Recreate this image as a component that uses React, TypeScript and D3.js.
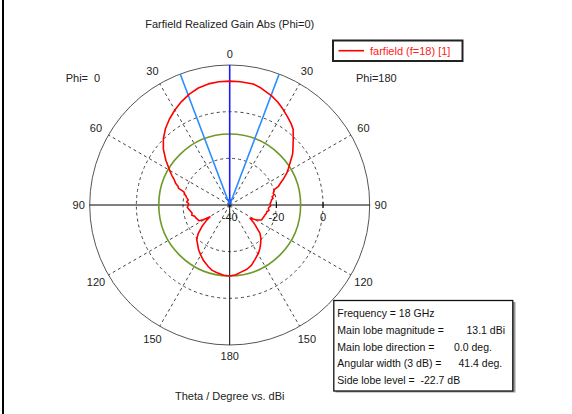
import React from "react";
import * as d3 from "d3";

// ---- data ----
const TITLE = "Farfield Realized Gain Abs (Phi=0)";
const X_LABEL = "Theta / Degree vs. dBi";
const LEGEND_LABEL = "farfield (f=18) [1]";
const ANGLE_TICKS = [0, 30, 60, 90, 120, 150, 180];
const RADIAL_TICKS = [-40, -20, 0];
const RADIAL_RINGS = [-20, 0];
const MAIN_LOBE_DB = 13.1;
const MAIN_LOBE_DIR = 0.0;
const ANGULAR_WIDTH = 41.4;
const SIDE_LOBE_LEVEL = -22.7;

// Phi = 0 half (drawn on the left), [theta deg, gain dBi]
const phi0Theta = [0, 5, 10, 15, 20, 25, 30, 35, 40, 45, 50, 55, 60, 63, 65, 68, 70, 72, 74, 76, 78, 80, 83, 86, 88, 90, 93, 96, 99, 102, 105, 108, 111, 114, 117, 119, 121, 123, 125, 128, 132, 136, 140, 145, 150, 155, 161, 165, 169, 175, 180];
const phi0Gain = [13.1, 13.0, 12.7, 11.9, 10.6, 8.9, 7.0, 5.0, 2.8, 0.2, -2.9, -6.6, -10.3, -12.2, -13.6, -15.0, -16.4, -17.0, -19.6, -20.0, -20.8, -21.2, -22.1, -21.5, -22.4, -22.3, -21.8, -22.4, -23.0, -23.5, -23.2, -24.3, -24.5, -24.9, -25.2, -27.0, -30.1, -28.5, -27.2, -24.8, -21.9, -19.6, -18.5, -16.7, -15.2, -13.6, -12.0, -11.0, -10.5, -9.8, -9.6];

// Phi = 180 half (drawn on the right)
const phi180Theta = [0, 5, 11, 15, 21, 25, 29, 33, 37, 40, 44, 48, 51, 55, 58, 61, 64, 67, 69, 71, 73, 75, 77, 79, 81, 83, 86, 88, 91, 93, 95, 98, 100, 103, 106, 110, 115, 119, 123, 126, 128, 133, 137, 141, 145, 149, 155, 160, 165, 170, 175, 180];
const phi180Gain = [13.1, 13.0, 12.8, 11.9, 10.1, 8.7, 7.0, 5.3, 3.7, 2.3, -0.8, -3.5, -5.3, -8.4, -10.3, -12.1, -14.3, -16.5, -17.6, -20.0, -20.2, -20.7, -20.4, -21.5, -21.2, -21.9, -22.3, -22.7, -22.4, -23.0, -23.4, -23.0, -23.8, -23.9, -24.3, -24.6, -24.9, -26.8, -29.6, -27.5, -26.2, -22.3, -20.4, -18.9, -17.4, -16.0, -14.3, -12.6, -11.5, -10.9, -10.0, -9.6];

const INFO_LINES = [
  { label: "Frequency = 18 GHz", value: "" },
  { label: "Main lobe magnitude =", value: `${MAIN_LOBE_DB.toFixed(1)} dBi` },
  { label: "Main lobe direction =", value: `${MAIN_LOBE_DIR.toFixed(1)} deg.` },
  { label: "Angular width (3 dB) =", value: `${ANGULAR_WIDTH.toFixed(1)} deg.` },
  { label: `Side lobe level =  ${SIDE_LOBE_LEVEL.toFixed(1)} dB`, value: "" },
];
const INFO_VALUE_X = [0, 466.5, 454, 458.5, 0];

// ---- layout ----
const W = 572, H = 414;
const cx = 229.7, cy = 205, R = 140;
const FONT = "'Liberation Sans', Arial, sans-serif";
const FS = 11;

export default function App() {
  const r = d3.scaleLinear().domain([-40, 20]).range([0, R]);
  const a = d3.scaleLinear().domain([0, 180]).range([0, Math.PI]);

  const left = phi0Theta.map((t, i) => ({ ang: -a(t), rad: r(phi0Gain[i]) })).reverse();
  const right = phi180Theta.map((t, i) => ({ ang: a(t), rad: r(phi180Gain[i]) }));
  const pts = [...left, ...right.slice(1)];
  const line = d3
    .lineRadial<{ ang: number; rad: number }>()
    .angle((d) => d.ang)
    .radius((d) => d.rad)
    .curve(d3.curveLinear);

  const pol = (deg: number, rad: number) => [
    rad * Math.sin((deg * Math.PI) / 180),
    -rad * Math.cos((deg * Math.PI) / 180),
  ];

  const sll = MAIN_LOBE_DB + SIDE_LOBE_LEVEL;
  const half = ANGULAR_WIDTH / 2;

  const spokes = [30, 60, 120, 150];
  return (
    <svg
      width={W}
      height={H}
      style={{ position: "fixed", left: 0, top: 0, background: "#fff" }}
      fontFamily={FONT}
      fontSize={FS}
    >
      <rect x={0} y={0} width={W} height={H} fill="#fff" />
      <line x1={3} y1={0} x2={3} y2={H} stroke="#000" strokeWidth={2} />

      <text x={cx} y={24} textAnchor="middle" dominantBaseline="central" fill="#222">
        {TITLE}
      </text>

      <g transform={`translate(${cx},${cy})`}>
        {/* dashed rings */}
        {RADIAL_RINGS.map((v) => (
          <circle key={v} r={r(v)} fill="none" stroke="#444" strokeWidth={1} strokeDasharray="3,3" />
        ))}
        {/* dashed spokes */}
        {spokes.flatMap((s) =>
          [s, -s].map((d) => {
            const [x, y] = pol(d, R);
            return <line key={d} x1={0} y1={0} x2={x} y2={y} stroke="#444" strokeWidth={1} strokeDasharray="3,3" />;
          })
        )}
        {/* outer circle */}
        <circle r={R} fill="none" stroke="#555" strokeWidth={1} />
        {/* axes */}
        <line x1={-R} y1={0} x2={R} y2={0} stroke="#000" strokeWidth={1} />
        <line x1={0} y1={0} x2={0} y2={R} stroke="#000" strokeWidth={1} />
        {RADIAL_TICKS.slice(1).map((v) => (
          <line key={v} x1={r(v)} y1={-3} x2={r(v)} y2={3} stroke="#000" />
        ))}
        {RADIAL_TICKS.map((v) => (
          <text key={v} x={r(v)} y={12} textAnchor="middle" dominantBaseline="central" fill="#222">
            {v}
          </text>
        ))}
        {/* side lobe level circle */}
        <circle r={r(sll)} fill="none" stroke="#6f9a2a" strokeWidth={1.6} />
        {/* 3 dB lines */}
        {[half, -half].map((d) => {
          const [x, y] = pol(d, R);
          return <line key={d} x1={0} y1={0} x2={x} y2={y} stroke="#2a8cff" strokeWidth={1.6} />;
        })}
        {/* main lobe direction */}
        {(() => {
          const [x, y] = pol(MAIN_LOBE_DIR, R);
          return <line x1={0} y1={0} x2={x} y2={y} stroke="#1a1aff" strokeWidth={1.6} />;
        })()}
        <path d="M0,0 L-2.5,-6 L2.5,-6 Z" fill="#1a6aff" />
        {/* curve */}
        <path d={line(pts) || ""} fill="none" stroke="#ff0000" strokeWidth={1.6} strokeLinejoin="round" />
        {/* angle labels */}
        {ANGLE_TICKS.flatMap((t) => {
          const rr = 151 + 4 * Math.abs(Math.sin((2 * t * Math.PI) / 180));
          const sides = t === 0 || t === 180 ? [t] : [t, -t];
          return sides.map((d) => {
            const [x, y] = pol(d, rr);
            return (
              <text key={`a${d}`} x={x} y={y} textAnchor="middle" dominantBaseline="central" fill="#222">
                {t}
              </text>
            );
          });
        })}
      </g>

      <text x={65.7} y={78} dominantBaseline="central" fill="#222" style={{ whiteSpace: "pre" }}>
        {"Phi=  0"}
      </text>
      <text x={356} y={78} dominantBaseline="central" fill="#222">
        Phi=180
      </text>

      {/* legend */}
      <rect x={333} y={40.5} width={129.5} height={20.5} fill="#fff" stroke="#222" strokeWidth={2} />
      <line x1={338.5} y1={50.7} x2={364} y2={50.7} stroke="#ff0000" strokeWidth={1.6} />
      <text x={370} y={50.7} dominantBaseline="central" fill="#ff2020">
        {LEGEND_LABEL}
      </text>

      {/* axis title */}
      <text x={cx} y={396} textAnchor="middle" dominantBaseline="central" fill="#222">
        {X_LABEL}
      </text>

      {/* info box */}
      <rect x={335.5} y={302} width={180} height={90.5} fill="#999" />
      <rect x={333.8} y={300.5} width={179} height={90.5} fill="#fff" stroke="#111" strokeWidth={1.3} />
      {INFO_LINES.map((l, i) => (
        <g key={i} fontSize={10.5}>
          <text x={337.3} y={313.3 + i * 16.6} dominantBaseline="central" fill="#111" style={{ whiteSpace: "pre" }}>
            {l.label}
          </text>
          {l.value && (
            <text x={INFO_VALUE_X[i]} y={313.3 + i * 16.6} dominantBaseline="central" fill="#111">
              {l.value}
            </text>
          )}
        </g>
      ))}
    </svg>
  );
}
